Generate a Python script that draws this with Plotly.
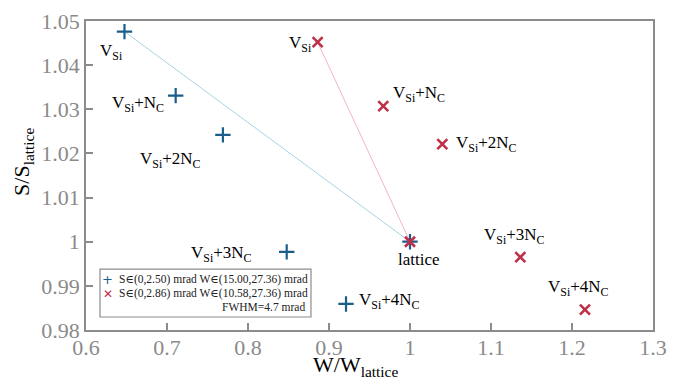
import plotly.graph_objects as go

# Data
labels = ["V<sub>Si</sub>", "V<sub>Si</sub>+N<sub>C</sub>", "V<sub>Si</sub>+2N<sub>C</sub>",
          "V<sub>Si</sub>+3N<sub>C</sub>", "V<sub>Si</sub>+4N<sub>C</sub>", "lattice"]

blue_w = [0.6475, 0.7107, 0.769, 0.8478, 0.921, 1.0]
blue_s = [1.0476, 1.0331, 1.0242, 0.9977, 0.9859, 1.0]

red_w = [0.886, 0.967, 1.0399, 1.1362, 1.216, 1.0]
red_s = [1.0452, 1.0307, 1.0221, 0.9965, 0.9846, 1.0]

blue_name = "S∈(0,2.50) mrad W∈(15.00,27.36) mrad"
red_name = "S∈(0,2.86) mrad W∈(10.58,27.36) mrad"
fwhm_text = "FWHM=4.7 mrad"

x_title = "W/W<sub>lattice</sub>"
y_title = "S/S<sub>lattice</sub>"

x_ticks = [0.6, 0.7, 0.8, 0.9, 1.0, 1.1, 1.2, 1.3]
x_ticktext = ["0.6", "0.7", "0.8", "0.9", "1", "1.1", "1.2", "1.3"]
y_ticks = [0.98, 0.99, 1.0, 1.01, 1.02, 1.03, 1.04, 1.05]
y_ticktext = ["0.98", "0.99", "1", "1.01", "1.02", "1.03", "1.04", "1.05"]

# label offsets in pixels (dx, dy) relative to each point
blue_off = [(-13, 20), (-38, 8), (-52, 25), (-65, 2), (43, -3), (9, 18)]
red_off = [(-17, 2), (36, -12), (44, 0), (-6, -21), (-6, -22)]

BLUE = "#1b5e8a"
RED = "#bf2f48"
SERIF = "Liberation Serif, DejaVu Serif, serif"

fig = go.Figure()

# connecting lines VSi -> lattice
fig.add_trace(go.Scatter(x=[blue_w[0], blue_w[5]], y=[blue_s[0], blue_s[5]], mode="lines",
                         line=dict(color="#a9d3e3", width=1), showlegend=False, hoverinfo="skip"))
fig.add_trace(go.Scatter(x=[red_w[0], red_w[5]], y=[red_s[0], red_s[5]], mode="lines",
                         line=dict(color="#f2b6c4", width=1), showlegend=False, hoverinfo="skip"))

fig.add_trace(go.Scatter(x=blue_w, y=blue_s, mode="markers", name=blue_name, showlegend=False,
                         marker=dict(symbol="cross-thin", size=11, color=BLUE,
                                     line=dict(width=2.2, color=BLUE))))
fig.add_trace(go.Scatter(x=red_w, y=red_s, mode="markers", name=red_name, showlegend=False,
                         marker=dict(symbol="x-thin", size=10, color=RED,
                                     line=dict(width=2.6, color=RED))))

ann = []
for i, lab in enumerate(labels):
    dx, dy = blue_off[i]
    ann.append(dict(x=blue_w[i], y=blue_s[i], text=lab, showarrow=True, ax=dx, ay=dy,
                    arrowcolor="rgba(0,0,0,0)", arrowwidth=0.1, arrowhead=0,
                    font=dict(family=SERIF, size=17, color="black")))
for i in range(5):
    dx, dy = red_off[i]
    ann.append(dict(x=red_w[i], y=red_s[i], text=labels[i], showarrow=True, ax=dx, ay=dy,
                    arrowcolor="rgba(0,0,0,0)", arrowwidth=0.1, arrowhead=0,
                    font=dict(family=SERIF, size=17, color="black")))

# axis titles
ann.append(dict(xref="paper", yref="paper", x=0.476, y=-0.117, text=x_title, showarrow=False,
                xanchor="center", yanchor="middle",
                font=dict(family=SERIF, size=22, color="black")))
ann.append(dict(xref="paper", yref="paper", x=-0.111, y=0.544, text=y_title, showarrow=False,
                xanchor="center", yanchor="middle", textangle=-90,
                font=dict(family=SERIF, size=22, color="black")))

# manual legend (box + symbols + text) in paper coordinates
leg_font = dict(family=SERIF, size=11.5, color="#222")
ann.append(dict(xref="paper", yref="paper", x=0.0388, y=0.162, text="+", showarrow=False,
                xanchor="center", yanchor="middle",
                font=dict(family="DejaVu Sans", size=13, color=BLUE)))
ann.append(dict(xref="paper", yref="paper", x=0.0388, y=0.118, text="✕", showarrow=False,
                xanchor="center", yanchor="middle",
                font=dict(family="DejaVu Sans", size=12, color=RED)))
ann.append(dict(xref="paper", yref="paper", x=0.0547, y=0.162, text=blue_name, showarrow=False,
                xanchor="left", yanchor="middle", font=leg_font))
ann.append(dict(xref="paper", yref="paper", x=0.0547, y=0.118, text=red_name, showarrow=False,
                xanchor="left", yanchor="middle", font=leg_font))
ann.append(dict(xref="paper", yref="paper", x=0.389, y=0.073, text=fwhm_text, showarrow=False,
                xanchor="right", yanchor="middle", font=leg_font))

shapes = [dict(type="rect", xref="paper", yref="paper", x0=0.0247, x1=0.3968, y0=0.042, y1=0.197,
               line=dict(color="#8c8c8c", width=1.2), fillcolor="white", layer="above")]

axis_common = dict(showline=True, linecolor="#8c8c8c", linewidth=1.5, mirror=True,
                   ticks="inside", ticklen=7, tickcolor="#8c8c8c", tickwidth=1.5,
                   showgrid=False, zeroline=False, automargin=False,
                   tickfont=dict(family=SERIF, size=22, color="#8a8a8a"))

# page body has an 8px margin: shrink the figure and shift margins accordingly
fig.update_layout(
    width=678, height=374,
    margin=dict(l=78, r=33, t=13, b=52),
    plot_bgcolor="white", paper_bgcolor="white",
    showlegend=False,
    xaxis=dict(range=[0.6, 1.3], tickvals=x_ticks, ticktext=x_ticktext,
               ticklabelstandoff=-3, **axis_common),
    yaxis=dict(range=[0.98, 1.05], tickvals=y_ticks, ticktext=y_ticktext,
               ticklabelstandoff=0, **axis_common),
    annotations=ann,
    shapes=shapes,
)

fig.write_html("out.html")
